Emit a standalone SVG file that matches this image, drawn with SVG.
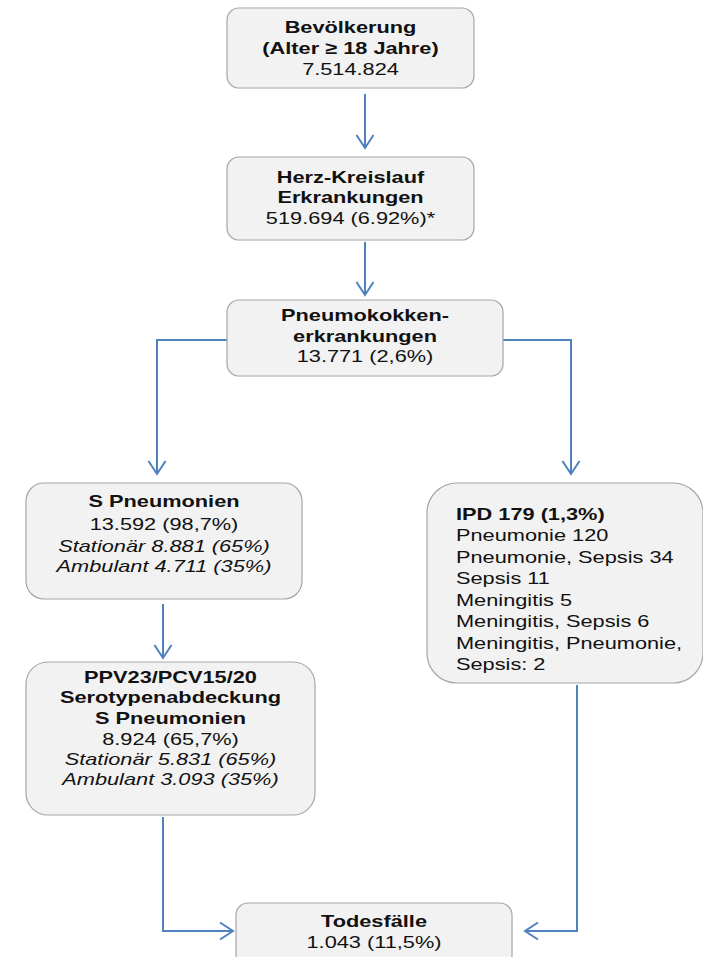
<svg xmlns="http://www.w3.org/2000/svg" width="703" height="957" viewBox="0 0 703 957">
  <style>
    .box { fill: #F2F2F2; stroke: #A6A6A6; stroke-width: 1.2; }
    .t { font-family: "Liberation Sans", Arial, sans-serif; font-size: 17px; fill: #111; }
    .c { text-anchor: middle; }
    .b { font-weight: bold; }
    .i { font-style: italic; }
    .conn { fill: none; stroke: #4F81BD; stroke-width: 2; marker-end: url(#arr); }
  </style>
  <defs>
    <marker id="arr" markerUnits="userSpaceOnUse" viewBox="-15 -10 17 20" refX="0" refY="0" markerWidth="17" markerHeight="20" orient="auto">
      <path d="M-13,-8.5 L0,0 L-13,8.5" fill="none" stroke="#4F81BD" stroke-width="2"/>
    </marker>
  </defs>
  <rect width="703" height="957" fill="#FFFFFF"/>

  <g id="connectors">
    <path class="conn" d="M365,94 V148"/>
    <path class="conn" d="M365,242 V295"/>
    <path class="conn" d="M227,340 H157 V474"/>
    <path class="conn" d="M503,340 H571 V474"/>
    <path class="conn" d="M163,604 V658"/>
    <path class="conn" d="M163,817 V931 H233"/>
    <path class="conn" d="M577,685 V931 H525"/>
  </g>

  <g id="bevoelkerung">
    <rect class="box" x="227" y="8" width="247" height="80" rx="12"/>
    <g transform="translate(350.5,0) scale(1.28,1)">
      <text class="t c b" x="0" y="33">Bevölkerung</text>
      <text class="t c b" x="0" y="54">(Alter ≥ 18 Jahre)</text>
      <text class="t c" x="0" y="75">7.514.824</text>
    </g>
  </g>

  <g id="herz-kreislauf">
    <rect class="box" x="227" y="157" width="247" height="83" rx="12"/>
    <g transform="translate(350.5,0) scale(1.28,1)">
      <text class="t c b" x="0" y="183">Herz-Kreislauf</text>
      <text class="t c b" x="0" y="203">Erkrankungen</text>
      <text class="t c" x="0" y="224">519.694 (6.92%)*</text>
    </g>
  </g>

  <g id="pneumokokken">
    <rect class="box" x="227" y="300" width="276" height="76" rx="12"/>
    <g transform="translate(365,0) scale(1.28,1)">
      <text class="t c b" x="0" y="321">Pneumokokken-</text>
      <text class="t c b" x="0" y="342">erkrankungen</text>
      <text class="t c" x="0" y="362">13.771 (2,6%)</text>
    </g>
  </g>

  <g id="s-pneumonien">
    <rect class="box" x="26" y="483" width="276" height="116" rx="18"/>
    <g transform="translate(164,0) scale(1.28,1)">
      <text class="t c b" x="0" y="507">S Pneumonien</text>
      <text class="t c" x="0" y="530">13.592 (98,7%)</text>
      <text class="t c i" x="0" y="552">Stationär 8.881 (65%)</text>
      <text class="t c i" x="0" y="572">Ambulant 4.711 (35%)</text>
    </g>
  </g>

  <g id="serotypenabdeckung">
    <rect class="box" x="26" y="662" width="289" height="153" rx="22"/>
    <g transform="translate(170.5,0) scale(1.28,1)">
      <text class="t c b" x="0" y="683">PPV23/PCV15/20</text>
      <text class="t c b" x="0" y="703">Serotypenabdeckung</text>
      <text class="t c b" x="0" y="724">S Pneumonien</text>
      <text class="t c" x="0" y="745">8.924 (65,7%)</text>
      <text class="t c i" x="0" y="765">Stationär 5.831 (65%)</text>
      <text class="t c i" x="0" y="785">Ambulant 3.093 (35%)</text>
    </g>
  </g>

  <g id="ipd">
    <rect class="box" x="427" y="483" width="276" height="200" rx="30"/>
    <g transform="translate(456,0) scale(1.28,1)">
      <text class="t b" x="0" y="520">IPD 179 (1,3%)</text>
      <text class="t" x="0" y="541.5">Pneumonie 120</text>
      <text class="t" x="0" y="563">Pneumonie, Sepsis 34</text>
      <text class="t" x="0" y="584.5">Sepsis 11</text>
      <text class="t" x="0" y="606">Meningitis 5</text>
      <text class="t" x="0" y="627.5">Meningitis, Sepsis 6</text>
      <text class="t" x="0" y="649">Meningitis, Pneumonie,</text>
      <text class="t" x="0" y="670.5">Sepsis: 2</text>
    </g>
  </g>

  <g id="todesfaelle">
    <rect class="box" x="236" y="903" width="276" height="64" rx="12"/>
    <g transform="translate(374,0) scale(1.28,1)">
      <text class="t c b" x="0" y="927">Todesfälle</text>
      <text class="t c" x="0" y="948">1.043 (11,5%)</text>
    </g>
  </g>
</svg>
